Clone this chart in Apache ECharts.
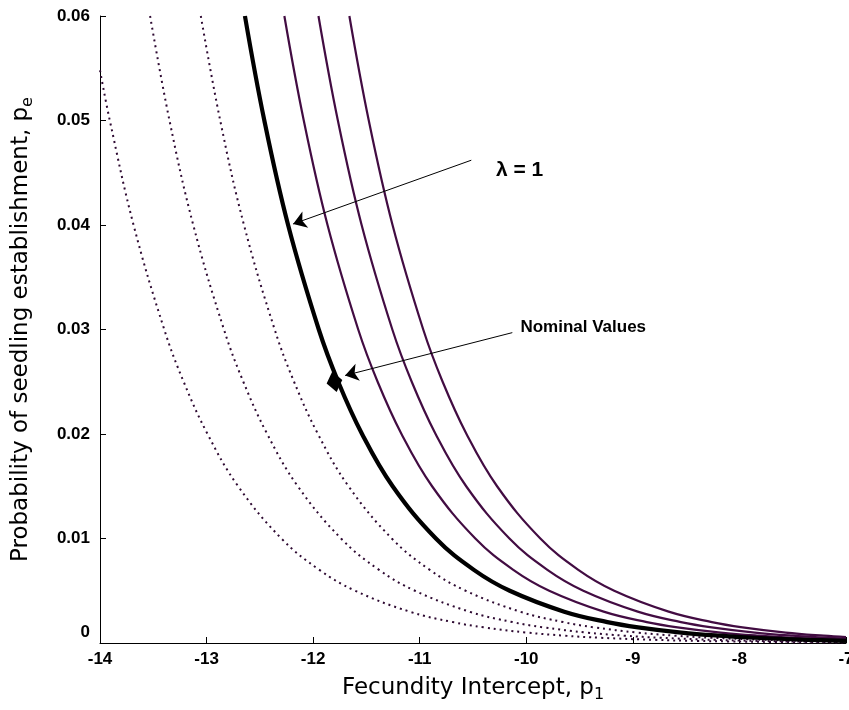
<!DOCTYPE html>
<html>
<head>
<meta charset="utf-8">
<script src="https://cdn.jsdelivr.net/npm/echarts@6/dist/echarts.min.js"></script>
<style>html,body{margin:0;padding:0;background:#fff}#c{width:849px;height:710px}</style>
</head>
<body>
<div id="c"></div>
<script>
// ---- data ----
const blackX = [-12.64,-12.458,-12.235,-11.947,-11.765,-11.541,-11.254,-10.848,-10.492,-10.155,-9.644,-9.239,-8.951,-8.546,-8.189,-7.853,-7.342,-7];
const blackY = [0.06,0.05,0.04,0.03,0.025,0.02,0.015,0.01,0.007,0.005,0.003,0.002,0.0015,0.001,0.0007,0.0005,0.0003,0.00021];

const p1X = [-12.27,-12.088,-11.865,-11.577,-11.395,-11.171,-10.884,-10.478,-10.122,-9.785,-9.274,-8.869,-8.581,-8.176,-7.819,-7.483,-7];
const p1Y = [0.06,0.05,0.04,0.03,0.025,0.02,0.015,0.01,0.007,0.005,0.003,0.002,0.0015,0.001,0.0007,0.0005,0.00031];

const p2X = [-11.95,-11.768,-11.545,-11.257,-11.075,-10.851,-10.564,-10.158,-9.802,-9.465,-8.954,-8.549,-8.261,-7.856,-7.499,-7.163,-7];
const p2Y = [0.06,0.05,0.04,0.03,0.025,0.02,0.015,0.01,0.007,0.005,0.003,0.002,0.0015,0.001,0.0007,0.0005,0.00042];

const p3X = [-11.66,-11.478,-11.255,-10.967,-10.785,-10.561,-10.274,-9.868,-9.512,-9.175,-8.664,-8.259,-7.971,-7.566,-7.209,-7];
const p3Y = [0.06,0.05,0.04,0.03,0.025,0.02,0.015,0.01,0.007,0.005,0.003,0.002,0.0015,0.001,0.0007,0.00057];

const d3X = [-13.054,-12.872,-12.649,-12.361,-12.179,-11.955,-11.668,-11.262,-10.906,-10.569,-10.058,-9.653,-9.365,-8.96,-8.603,-8.266,-7.756,-7.35,-7];
const d3Y = [0.06,0.05,0.04,0.03,0.025,0.02,0.015,0.01,0.007,0.005,0.003,0.002,0.0015,0.001,0.0007,0.0005,0.0003,0.0002,0.00014];

const d2X = [-13.53,-13.348,-13.125,-12.837,-12.655,-12.431,-12.144,-11.738,-11.382,-11.045,-10.534,-10.129,-9.841,-9.436,-9.079,-8.742,-8.232,-7.826,-7.539,-7];
const d2Y = [0.06,0.05,0.04,0.03,0.025,0.02,0.015,0.01,0.007,0.005,0.003,0.002,0.0015,0.001,0.0007,0.0005,0.0003,0.0002,0.00015,0.00009];

const d1X = [-14,-13.908,-13.685,-13.397,-13.215,-12.991,-12.704,-12.298,-11.942,-11.605,-11.094,-10.689,-10.401,-9.996,-9.639,-9.302,-8.792,-8.386,-8.099,-7.693,-7];
const d1Y = [0.0548,0.05,0.04,0.03,0.025,0.02,0.015,0.01,0.007,0.005,0.003,0.002,0.0015,0.001,0.0007,0.0005,0.0003,0.0002,0.00015,0.0001,0.00005];

const nominalPoint = [-11.8, 0.025];
const lambdaArrow = [[-10.516, 0.0462], [-12.188, 0.0401]];
const lambdaLabelAt = [-10.29, 0.0452];
const nominalArrow = [[-10.131, 0.0297], [-11.70, 0.0256]];
const nominalLabelAt = [-10.06, 0.0302];

const xMin = -14, xMax = -7, xStep = 1;
const yMin = 0, yMax = 0.06, yStep = 0.01;

// ---- chart ----
const zip = (xs, ys) => xs.map((x, i) => [x, ys[i]]);
const purple = '#420c42';
const dotCol = '#2e0a32';
const FONT = 'Liberation Sans, Arial, sans-serif';

function line(xs, ys, color, width, type) {
  return {
    type: 'line', data: zip(xs, ys), showSymbol: false, symbol: 'none',
    smooth: 0.4, clip: true, silent: true,
    lineStyle: { color: color, width: width, type: type || 'solid' }
  };
}

const chart = echarts.init(document.getElementById('c'), null, { renderer: 'canvas' });
chart.setOption({
  animation: false,
  backgroundColor: '#fff',
  grid: { left: 100, right: 3, top: 16, bottom: 67, containLabel: false, outerBoundsMode: 'none' },
  xAxis: {
    type: 'value', min: xMin, max: xMax, interval: xStep,
    axisLine: { show: true, onZero: false, lineStyle: { color: '#000', width: 1 } },
    axisTick: { show: true, inside: true, length: 6, lineStyle: { color: '#000' } },
    splitLine: { show: false },
    axisLabel: { color: '#000', fontFamily: FONT, fontWeight: 'bold', fontSize: 17, margin: 8 },
    name: '{a|Fecundity Intercept, p}{s|1}',
    nameLocation: 'middle', nameGap: 26,
    nameTextStyle: {
      color: '#000',
      rich: {
        a: { fontFamily: 'DejaVu Sans, sans-serif', fontSize: 23, color: '#000', lineHeight: 30 },
        s: { fontFamily: 'DejaVu Sans, sans-serif', fontSize: 16, color: '#000', lineHeight: 30, verticalAlign: 'bottom', padding: [14, 0, 0, 0] }
      }
    }
  },
  yAxis: {
    type: 'value', min: yMin, max: yMax, interval: yStep,
    axisLine: { show: true, lineStyle: { color: '#000', width: 1 } },
    axisTick: { show: true, inside: true, length: 6, lineStyle: { color: '#000' } },
    splitLine: { show: false },
    axisLabel: {
      color: '#000', fontFamily: FONT, fontWeight: 'bold', fontSize: 17, margin: 10,
      formatter: v => v === 0 ? '{z|0}' : String(+v.toFixed(2)),
      rich: { z: { fontFamily: FONT, fontWeight: 'bold', fontSize: 17, color: '#000', padding: [0, 0, 22, 0] } }
    },
    name: '{a|Probability of seedling establishment, p}{s|e}',
    nameLocation: 'middle', nameGap: 64, nameRotate: 90,
    nameTextStyle: {
      color: '#000',
      rich: {
        a: { fontFamily: 'DejaVu Sans, sans-serif', fontSize: 23, color: '#000', lineHeight: 30 },
        s: { fontFamily: 'DejaVu Sans, sans-serif', fontSize: 16, color: '#000', lineHeight: 30, verticalAlign: 'bottom', padding: [14, 0, 0, 0] }
      }
    }
  },
  series: [
    line(d1X, d1Y, dotCol, 2, [2, 4]),
    line(d2X, d2Y, dotCol, 2, [2, 4]),
    line(d3X, d3Y, dotCol, 2, [2, 4]),
    line(p3X, p3Y, purple, 2.2),
    line(p2X, p2Y, purple, 2.2),
    line(p1X, p1Y, purple, 2.2),
    line(blackX, blackY, '#000', 4.2),
    {
      type: 'scatter', data: [nominalPoint], symbol: 'diamond', symbolSize: [16, 21], symbolRotate: 12,
      itemStyle: { color: '#000', opacity: 1 }, silent: true, z: 5,
      markLine: {
        silent: true, symbol: ['none', 'arrow'], symbolSize: [13, 13],
        lineStyle: { color: '#000', width: 1, type: 'solid' },
        label: { show: false },
        data: [
          [{ coord: lambdaArrow[0] }, { coord: lambdaArrow[1] }],
          [{ coord: nominalArrow[0] }, { coord: nominalArrow[1] }]
        ]
      },
      markPoint: {
        silent: true, symbol: 'circle', symbolSize: 1,
        itemStyle: { color: 'rgba(0,0,0,0)' },
        data: [
          { coord: lambdaLabelAt, label: { show: true, position: 'right', distance: 0, formatter: 'λ = 1', color: '#000', fontFamily: FONT, fontWeight: 'bold', fontSize: 21 } },
          { coord: nominalLabelAt, label: { show: true, position: 'right', distance: 0, formatter: 'Nominal Values', color: '#000', fontFamily: FONT, fontWeight: 'bold', fontSize: 17 } }
        ]
      }
    }
  ]
});
</script>
</body>
</html>
